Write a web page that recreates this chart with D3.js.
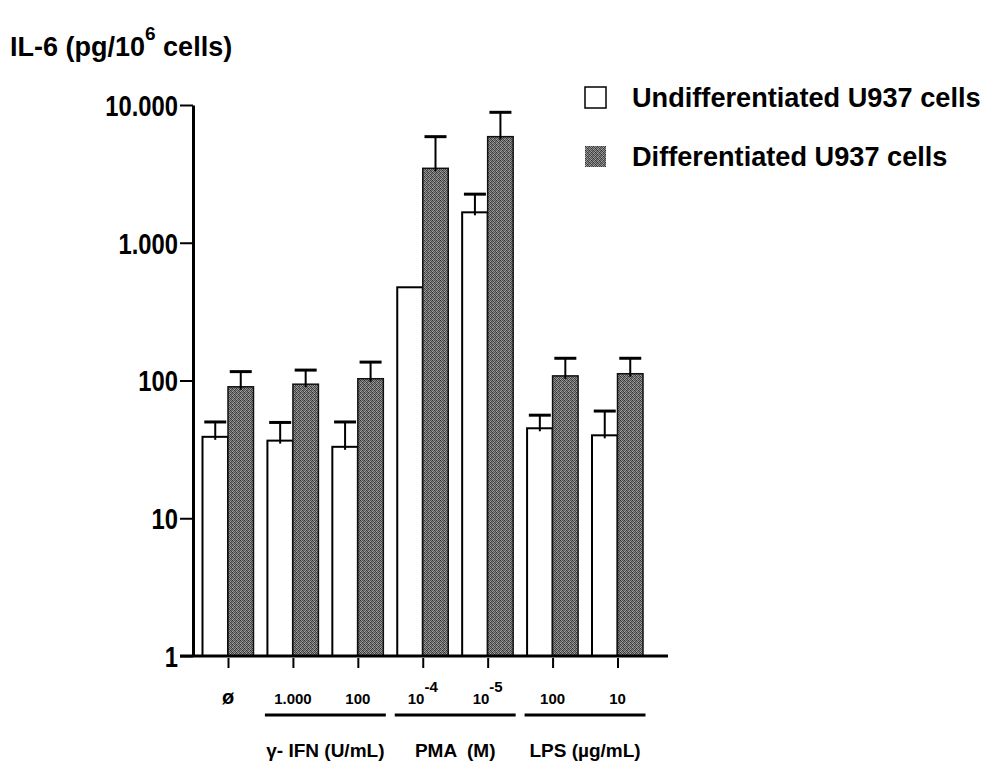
<!DOCTYPE html>
<html>
<head>
<meta charset="utf-8">
<script src="https://cdnjs.cloudflare.com/ajax/libs/d3/7.8.5/d3.min.js"></script>
<style>
  body { margin: 0; background: #fff; }
  text { font-family: "Liberation Sans", Arial, sans-serif; font-weight: bold; fill: #000; }
</style>
</head>
<body>
<div id="chart"></div>
<script>
// Data (IL-6, pg/10^6 cells)
var categories = ["ø", "1.000", "100", "10-4", "10-5", "100 ", "10"];
var catBase = ["ø", "1.000", "100", "10", "10", "100", "10"];
var catSup = ["", "", "", "-4", "-5", "", ""];
var undiff = [39, 36.6, 33, 475, 1663, 45, 40];
var undiffErr = [11, 13, 17, 0, 590, 11, 20];
var diff = [90, 94, 103, 3470, 5890, 108, 112];
var diffErr = [26, 25, 33, 2420, 2960, 37, 33];
var yTicks = [1, 10, 100, 1000, 10000];
var groups = [
  { name: "γ- IFN (U/mL)", from: 1, to: 2 },
  { name: "PMA  (M)", from: 3, to: 4 },
  { name: "LPS (µg/mL)", from: 5, to: 6 }
];
var seriesNames = ["Undifferentiated U937 cells", "Differentiated U937 cells"];

var W = 989, H = 761;
var svg = d3.select("#chart").append("svg")
  .attr("width", W).attr("height", H);

// halftone-like fill for the grey bars
var shades = [
  [0x30, 0x94, 0x50, 0x84],
  [0x84, 0x40, 0xa4, 0x48],
  [0x58, 0x9c, 0x34, 0x7c],
  [0xa4, 0x50, 0x8c, 0x40]
];
var pat = svg.append("defs").append("pattern")
  .attr("id", "dots").attr("patternUnits", "userSpaceOnUse")
  .attr("width", 4).attr("height", 4);
shades.forEach(function (row, r) {
  row.forEach(function (v, c) {
    pat.append("rect").attr("x", c).attr("y", r).attr("width", 1).attr("height", 1)
      .attr("fill", d3.rgb(v, v, v));
  });
});

// scales
var x = d3.scalePoint().domain(categories).range([228, 617.5]);
var y = d3.scaleLog().domain([1, 10000]).range([656, 105]);
var barW = 25.5;
var baseY = y(1);

var fmt = d3.formatLocale({ decimal: ",", thousands: ".", grouping: [3], currency: ["", ""] }).format(",d");

// bars
var g = svg.append("g");
g.selectAll(".undiff").data(categories).enter().append("rect")
  .attr("x", function (d) { return x(d) - barW; })
  .attr("y", function (d, i) { return y(undiff[i]); })
  .attr("width", barW)
  .attr("height", function (d, i) { return baseY - y(undiff[i]); })
  .attr("fill", "#fff").attr("stroke", "#000").attr("stroke-width", 2);

g.selectAll(".diff").data(categories).enter().append("rect")
  .attr("x", function (d) { return x(d); })
  .attr("y", function (d, i) { return y(diff[i]); })
  .attr("width", barW)
  .attr("height", function (d, i) { return baseY - y(diff[i]); })
  .attr("fill", "url(#dots)").attr("stroke", "#111").attr("stroke-width", 1.5);

// error bars
function errorBars(vals, errs, off) {
  categories.forEach(function (d, i) {
    if (!errs[i]) return;
    var cx = x(d) + off;
    var top = y(vals[i] + errs[i]);
    g.append("line").attr("x1", cx).attr("x2", cx)
      .attr("y1", y(vals[i]) + 3).attr("y2", top)
      .attr("stroke", "#000").attr("stroke-width", 2);
    g.append("line").attr("x1", cx - 11).attr("x2", cx + 11)
      .attr("y1", top).attr("y2", top)
      .attr("stroke", "#000").attr("stroke-width", 3);
  });
}
errorBars(undiff, undiffErr, -barW / 2);
errorBars(diff, diffErr, barW / 2);

// y axis
var yAxis = svg.append("g")
  .attr("transform", "translate(193,0)")
  .call(d3.axisLeft(y).tickValues(yTicks).tickSize(13).tickSizeOuter(0).tickFormat(fmt));
yAxis.select(".domain").attr("stroke-width", 3);
yAxis.selectAll(".tick line").attr("stroke-width", 2);
yAxis.selectAll(".tick text")
  .attr("x", null).attr("dy", "0.36em")
  .attr("transform", "translate(-15,0) scale(0.82,1)")
  .style("font-size", "29px");

// baseline
svg.append("line").attr("x1", 180).attr("x2", 668)
  .attr("y1", baseY).attr("y2", baseY)
  .attr("stroke", "#000").attr("stroke-width", 3);

// x ticks
var xAxis = svg.append("g")
  .attr("transform", "translate(0," + (baseY + 2) + ")")
  .call(d3.axisBottom(x).tickSize(10).tickFormat(""));
xAxis.select(".domain").remove();
xAxis.selectAll(".tick line").attr("stroke-width", 2);

// x labels
var xl = svg.append("g").selectAll("text").data(categories).enter().append("text")
  .attr("x", function (d) { return x(d); })
  .attr("y", 704)
  .attr("text-anchor", "middle")
  .style("font-size", "15px");
xl.append("tspan").text(function (d, i) { return catBase[i]; })
  .style("font-size", function (d, i) { return i === 0 ? "20px" : "15px"; });
xl.append("tspan").attr("dy", -12).text(function (d, i) { return catSup[i]; });

// group underlines and names
groups.forEach(function (gr) {
  var x0 = x(categories[gr.from]) - 28, x1 = x(categories[gr.to]) + 28;
  svg.append("line").attr("x1", x0).attr("x2", x1)
    .attr("y1", 715).attr("y2", 715)
    .attr("stroke", "#000").attr("stroke-width", 3);
  svg.append("text")
    .attr("x", (x0 + x1) / 2).attr("y", 757)
    .attr("text-anchor", "middle")
    .style("font-size", "19px")
    .style("white-space", "pre")
    .text(gr.name);
});

// title
var title = svg.append("text").attr("x", 10).attr("y", 56).style("font-size", "27px");
title.append("tspan").text("IL-6 (pg/10");
title.append("tspan").attr("dy", -16).style("font-size", "19px").text("6");
title.append("tspan").attr("dy", 16).text(" cells)");

// legend
var leg = svg.append("g").selectAll("g").data(seriesNames).enter().append("g")
  .attr("transform", function (d, i) { return "translate(585," + (87 + i * 59) + ")"; });
leg.append("rect").attr("width", 21).attr("height", 21)
  .attr("fill", function (d, i) { return i === 0 ? "#fff" : "url(#dots)"; })
  .attr("stroke", "#000").attr("stroke-width", function (d, i) { return i === 0 ? 1.5 : 0; });
leg.append("text")
  .attr("transform", "translate(47,20) scale(0.97,1)")
  .style("font-size", "28px")
  .text(function (d) { return d; });
</script>
</body>
</html>
